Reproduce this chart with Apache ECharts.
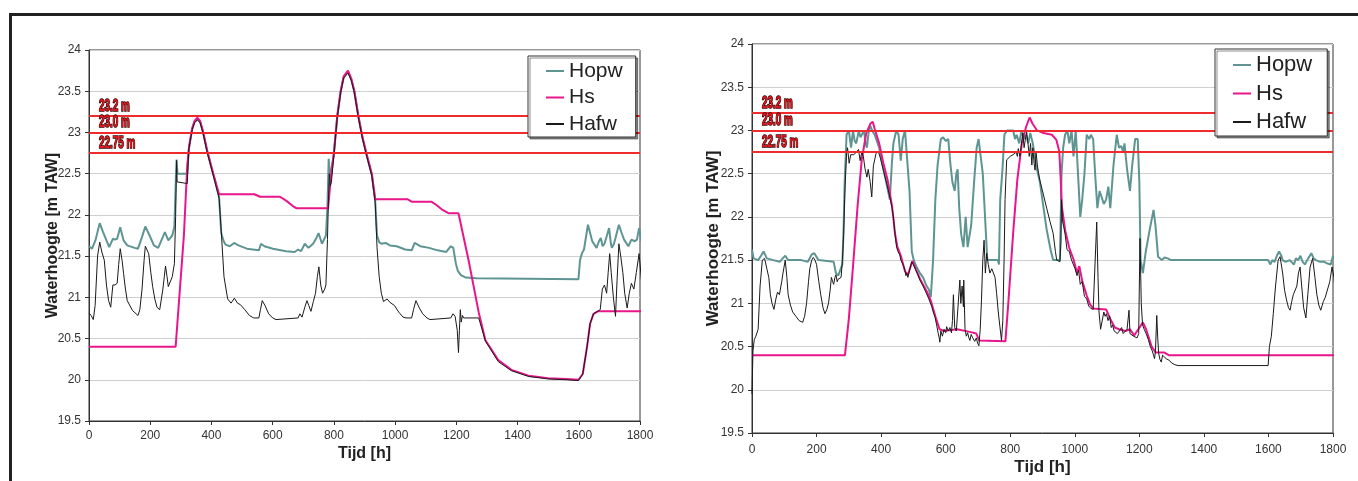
<!DOCTYPE html>
<html>
<head>
<meta charset="utf-8">
<script src="https://cdn.jsdelivr.net/npm/echarts@6/dist/echarts.min.js"></script>
<style>
  html, body { margin: 0; padding: 0; background: #fff; }
  #chart { width: 1358px; height: 481px; }
</style>
</head>
<body>
<div id="chart"></div>
<script>
// x ticks, y range
const xTicks = { min: 0, max: 1800, step: 200 };
const yTicks = { min: 19.5, max: 24, step: 0.5 };
const seriesNames = ['Hopw', 'Hs', 'Hafw'];
const limitLevels = [23.2, 23.0, 22.75];
const limitLabels = ['23.2 m', '23.0 m', '22.75 m'];

// linker grafiek  [tijd h, waterhoogte m TAW]
const leftHopw = [[0,21.62],[10,21.59],[21,21.69],[35,21.9],[45,21.8],[57,21.69],[66,21.61],[78,21.71],[85,21.7],[92,21.71],[102,21.85],[113,21.69],[125,21.63],[149,21.6],[160,21.59],[173,21.73],[184,21.86],[198,21.75],[212,21.63],[226,21.6],[248,21.79],[259,21.69],[272,21.75],[279,21.86],[283,22.34],[286,22.67],[289,22.5],[321,22.5],[326,22.8],[337,23.04],[345,23.13],[354,23.16],[363,23.13],[372,23.01],[386,22.77],[406,22.49],[425,22.22],[432,21.78],[440,21.68],[446,21.64],[460,21.62],[474,21.66],[488,21.63],[516,21.59],[555,21.57],[562,21.65],[573,21.62],[601,21.59],[644,21.56],[672,21.55],[683,21.58],[693,21.56],[705,21.65],[717,21.6],[732,21.65],[743,21.72],[750,21.78],[761,21.65],[774,21.75],[779,22.1],[783,22.68],[787,22.45],[792,22.45],[800,22.74],[811,23.19],[822,23.49],[832,23.67],[846,23.74],[857,23.64],[867,23.49],[880,23.19],[893,22.94],[906,22.74],[924,22.48],[935,22.17],[941,21.75],[948,21.67],[955,21.65],[969,21.66],[983,21.63],[1005,21.62],[1033,21.58],[1054,21.57],[1064,21.66],[1082,21.62],[1111,21.6],[1139,21.57],[1167,21.55],[1182,21.62],[1190,21.6],[1195,21.58],[1199,21.4],[1205,21.32],[1215,21.27],[1231,21.24],[1266,21.23],[1599,21.22],[1604,21.45],[1610,21.53],[1617,21.58],[1630,21.88],[1637,21.78],[1644,21.68],[1658,21.6],[1666,21.68],[1672,21.72],[1678,21.62],[1684,21.65],[1692,21.75],[1699,21.84],[1705,21.65],[1708,21.6],[1715,21.65],[1720,21.72],[1731,21.88],[1740,21.78],[1748,21.7],[1762,21.62],[1772,21.7],[1783,21.68],[1790,21.7],[1797,21.84],[1804,21.7],[1810,21.6]];
const leftHs = [[0,20.4],[283,20.4],[297,21.1],[310,21.75],[321,22.6],[328,22.85],[337,23.05],[345,23.14],[354,23.18],[363,23.14],[372,23.02],[386,22.78],[406,22.5],[425,22.25],[540,22.25],[559,22.22],[624,22.22],[645,22.17],[665,22.11],[678,22.08],[781,22.08],[790,22.45],[800,22.75],[811,23.2],[822,23.5],[832,23.68],[846,23.75],[857,23.65],[867,23.5],[880,23.2],[893,22.95],[906,22.75],[924,22.5],[935,22.19],[1040,22.19],[1054,22.16],[1118,22.16],[1135,22.12],[1155,22.06],[1174,22.02],[1207,22.02],[1240,21.45],[1273,20.82],[1295,20.48],[1337,20.24],[1380,20.12],[1436,20.05],[1500,20.02],[1560,20.01],[1599,20.0],[1613,20.07],[1627,20.4],[1637,20.68],[1648,20.8],[1662,20.83],[1810,20.83]];
const leftHafw = [[0,20.81],[7,20.78],[14,20.73],[20,20.9],[28,21.5],[35,21.67],[42,21.55],[50,21.45],[57,21.15],[64,20.96],[71,20.88],[78,21.15],[85,21.15],[92,21.17],[97,21.4],[102,21.59],[108,21.45],[113,21.29],[119,21.1],[125,20.96],[142,20.84],[160,20.78],[166,20.85],[173,21.09],[180,21.45],[184,21.62],[195,21.53],[202,21.3],[208,21.13],[215,20.98],[222,20.88],[231,20.85],[241,21.09],[246,21.25],[250,21.38],[255,21.25],[259,21.13],[264,21.13],[272,21.25],[279,21.41],[283,21.98],[286,22.66],[288,22.4],[290,22.38],[321,22.38],[326,22.8],[337,23.03],[345,23.12],[354,23.15],[363,23.12],[372,23.0],[386,22.76],[406,22.48],[425,22.2],[432,21.8],[441,21.25],[453,20.98],[464,20.93],[475,20.99],[485,20.93],[495,20.91],[509,20.85],[524,20.78],[538,20.75],[555,20.75],[560,20.85],[566,20.96],[575,20.9],[587,20.8],[600,20.75],[611,20.73],[683,20.75],[689,20.8],[696,20.76],[705,20.88],[712,20.96],[718,20.9],[725,20.83],[733,20.95],[740,21.05],[746,21.25],[751,21.37],[757,21.15],[763,21.05],[770,21.1],[774,21.15],[779,21.7],[781,22.0],[785,22.5],[788,22.35],[792,22.4],[800,22.72],[811,23.18],[822,23.48],[832,23.66],[846,23.72],[857,23.63],[867,23.48],[880,23.18],[893,22.93],[906,22.73],[924,22.47],[935,22.15],[941,21.6],[948,21.25],[955,21.05],[962,20.95],[974,20.98],[983,20.94],[998,20.9],[1012,20.82],[1026,20.76],[1036,20.75],[1054,20.75],[1060,20.85],[1068,20.96],[1078,20.88],[1090,20.8],[1104,20.75],[1114,20.73],[1182,20.75],[1189,20.8],[1196,20.77],[1203,20.6],[1207,20.33],[1210,20.6],[1213,20.85],[1216,20.7],[1220,20.78],[1224,20.75],[1273,20.75],[1295,20.47],[1337,20.22],[1380,20.11],[1436,20.04],[1500,20.01],[1560,20.0],[1599,19.99],[1613,20.07],[1627,20.4],[1637,20.68],[1648,20.8],[1662,20.83],[1670,20.85],[1677,21.1],[1684,21.15],[1691,21.05],[1696,21.3],[1701,21.53],[1706,21.3],[1713,21.0],[1720,20.77],[1725,21.2],[1731,21.65],[1737,21.5],[1744,21.3],[1750,21.05],[1758,20.87],[1765,21.05],[1772,21.17],[1780,21.1],[1788,21.3],[1797,21.53],[1805,21.2],[1810,20.95]];

// rechter grafiek
const rightHopw = [[0,21.62],[5,21.52],[19,21.5],[28,21.55],[36,21.6],[46,21.52],[66,21.5],[86,21.48],[95,21.52],[103,21.55],[112,21.5],[153,21.5],[173,21.48],[186,21.57],[193,21.58],[206,21.5],[253,21.48],[260,21.35],[267,21.32],[273,21.3],[280,21.45],[284,21.9],[287,22.4],[293,22.95],[300,23.0],[307,22.8],[313,23.0],[318,22.88],[323,22.85],[331,23.0],[336,22.92],[340,22.9],[347,23.0],[352,22.85],[356,22.8],[362,23.0],[367,23.05],[372,23.0],[380,22.95],[394,22.8],[407,22.55],[417,22.38],[427,22.2],[433,22.6],[438,22.85],[447,23.0],[454,22.95],[461,22.65],[467,22.9],[474,23.0],[480,22.98],[488,22.3],[495,21.6],[501,21.5],[510,21.42],[520,21.35],[530,21.3],[541,21.2],[548,21.16],[554,21.07],[561,21.5],[568,22.2],[575,22.6],[585,22.9],[592,22.92],[600,22.88],[608,22.9],[615,22.6],[621,22.4],[628,22.3],[633,22.5],[637,22.55],[642,22.1],[648,21.8],[655,21.65],[662,22.0],[668,21.65],[672,21.63],[679,21.9],[688,22.4],[696,22.8],[702,22.9],[708,22.9],[715,22.5],[722,22.0],[729,21.5],[762,21.5],[765,21.45],[769,22.2],[776,22.55],[782,22.95],[790,23.0],[809,23.0],[815,22.9],[820,22.95],[828,22.85],[835,23.0],[842,22.9],[849,22.95],[856,22.85],[862,22.97],[870,22.85],[880,22.6],[892,22.4],[913,21.85],[925,21.62],[933,21.5],[954,21.5],[959,22.5],[964,22.8],[970,22.95],[977,23.0],[983,22.85],[990,23.0],[996,22.7],[1003,23.0],[1010,22.5],[1017,22.0],[1023,22.2],[1030,22.5],[1037,22.95],[1045,22.9],[1050,22.95],[1057,22.9],[1063,22.5],[1070,22.1],[1077,22.3],[1083,22.3],[1090,22.15],[1097,22.2],[1104,22.35],[1110,22.1],[1120,22.6],[1130,22.95],[1137,22.8],[1144,22.82],[1150,22.75],[1154,22.85],[1162,22.55],[1171,22.3],[1178,22.6],[1187,22.9],[1195,22.9],[1200,22.4],[1204,21.5],[1211,21.35],[1220,21.6],[1232,21.85],[1244,22.08],[1250,21.9],[1258,21.54],[1264,21.55],[1270,21.5],[1278,21.53],[1288,21.52],[1298,21.5],[1599,21.5],[1606,21.45],[1612,21.5],[1619,21.48],[1626,21.55],[1633,21.6],[1640,21.55],[1644,21.5],[1653,21.48],[1666,21.5],[1672,21.48],[1679,21.45],[1685,21.52],[1692,21.5],[1699,21.55],[1706,21.48],[1713,21.45],[1720,21.5],[1733,21.58],[1740,21.52],[1747,21.5],[1760,21.48],[1773,21.48],[1783,21.46],[1793,21.45],[1800,21.55],[1806,21.5],[1811,21.5]];
const rightHs = [[0,20.4],[288,20.4],[300,20.82],[313,21.43],[327,22.12],[340,22.66],[354,22.97],[367,23.08],[374,23.1],[380,23.02],[394,22.85],[407,22.62],[420,22.43],[434,22.12],[443,21.81],[450,21.66],[461,21.55],[474,21.37],[483,21.33],[497,21.49],[508,21.39],[521,21.28],[541,21.14],[554,21.03],[568,20.85],[581,20.7],[595,20.68],[635,20.7],[675,20.67],[695,20.65],[704,20.57],[785,20.56],[795,21.05],[809,21.81],[822,22.43],[836,22.85],[849,23.04],[860,23.15],[869,23.08],[883,23.0],[903,22.97],[929,22.95],[943,22.89],[952,22.76],[956,22.47],[960,22.12],[970,21.85],[983,21.64],[996,21.51],[1007,21.35],[1014,21.43],[1023,21.26],[1037,21.09],[1047,20.99],[1057,20.94],[1097,20.93],[1110,20.82],[1124,20.72],[1137,20.7],[1157,20.68],[1171,20.7],[1184,20.63],[1197,20.7],[1211,20.78],[1221,20.7],[1238,20.5],[1251,20.43],[1278,20.43],[1291,20.4],[1811,20.4]];
const rightHafw = [[0,19.95],[3,20.45],[7,20.58],[12,20.62],[19,20.7],[25,21.2],[32,21.5],[39,21.52],[46,21.4],[52,21.3],[57,21.1],[62,21.0],[68,20.93],[74,21.05],[79,21.13],[85,21.1],[88,21.1],[92,21.25],[96,21.35],[103,21.5],[108,21.3],[112,21.1],[119,20.98],[126,20.9],[136,20.85],[146,20.8],[157,20.78],[163,20.85],[169,21.0],[175,21.25],[179,21.4],[185,21.5],[190,21.53],[195,21.5],[200,21.45],[207,21.25],[213,21.1],[220,20.95],[226,20.88],[232,20.93],[237,21.0],[242,21.15],[246,21.3],[250,21.25],[253,21.22],[257,21.3],[260,21.33],[264,21.25],[267,21.28],[272,21.3],[276,21.3],[280,21.5],[284,21.8],[287,22.2],[289,22.4],[293,22.73],[296,22.8],[301,22.62],[306,22.72],[315,22.72],[324,22.75],[330,22.78],[335,22.65],[340,22.75],[345,22.7],[350,22.56],[356,22.46],[360,22.55],[366,22.41],[371,22.23],[376,22.59],[384,22.73],[391,22.76],[397,22.69],[407,22.54],[417,22.39],[427,22.23],[434,22.1],[438,22.0],[443,21.8],[448,21.65],[452,21.6],[458,21.56],[461,21.5],[464,21.52],[469,21.44],[474,21.38],[477,21.32],[479,21.35],[483,21.3],[488,21.38],[495,21.48],[500,21.45],[508,21.38],[514,21.33],[520,21.27],[530,21.2],[541,21.11],[548,21.05],[557,20.96],[563,20.88],[567,20.84],[572,20.75],[577,20.65],[580,20.6],[582,20.55],[585,20.68],[590,20.62],[595,20.7],[600,20.66],[603,20.73],[608,20.68],[613,20.72],[618,20.66],[621,20.8],[624,21.1],[628,20.72],[633,20.68],[638,20.66],[644,21.27],[647,21.0],[651,21.2],[655,20.96],[656,21.27],[660,20.7],[664,20.62],[668,20.66],[672,20.6],[675,20.57],[679,20.64],[684,20.6],[690,20.56],[695,20.6],[699,20.54],[703,20.51],[707,20.7],[711,21.04],[715,21.5],[719,21.73],[723,21.35],[727,21.58],[732,21.45],[737,21.35],[743,21.4],[748,21.42],[753,21.3],[758,21.11],[763,20.9],[768,20.73],[773,20.57],[777,20.8],[781,21.5],[784,22.2],[789,22.66],[800,22.7],[809,22.72],[815,22.74],[819,22.75],[822,22.7],[825,22.79],[830,22.7],[835,22.85],[839,22.97],[843,22.8],[847,22.9],[851,22.98],[855,22.85],[859,22.7],[863,22.85],[867,22.6],[870,22.8],[874,22.62],[877,22.54],[880,22.75],[884,22.6],[888,22.5],[892,22.42],[900,22.3],[913,22.1],[923,21.95],[933,21.81],[940,21.6],[944,21.5],[954,21.48],[957,21.7],[959,22.2],[962,21.95],[966,21.88],[970,21.8],[976,21.62],[983,21.6],[990,21.5],[996,21.48],[1001,21.4],[1007,21.32],[1012,21.38],[1017,21.22],[1023,21.25],[1030,21.08],[1037,21.05],[1043,20.97],[1050,20.94],[1057,20.93],[1063,20.93],[1068,21.94],[1072,21.3],[1075,20.9],[1080,20.7],[1085,20.72],[1090,20.9],[1094,20.85],[1098,20.88],[1103,20.8],[1108,20.85],[1113,20.72],[1117,20.75],[1122,20.68],[1127,20.7],[1132,20.65],[1138,20.68],[1145,20.72],[1150,20.65],[1156,20.66],[1162,20.7],[1168,20.92],[1171,20.65],[1176,20.66],[1182,20.62],[1188,20.64],[1193,20.6],[1198,20.65],[1202,21.75],[1206,21.0],[1210,20.75],[1215,20.7],[1221,20.65],[1228,20.58],[1234,20.5],[1240,20.45],[1244,20.4],[1247,20.36],[1250,20.45],[1254,20.86],[1257,20.6],[1260,20.42],[1264,20.35],[1268,20.32],[1272,20.4],[1278,20.42],[1283,20.36],[1288,20.38],[1293,20.34],[1300,20.31],[1310,20.29],[1320,20.28],[1599,20.28],[1603,20.5],[1609,20.62],[1615,20.88],[1622,21.2],[1630,21.5],[1636,21.54],[1644,21.35],[1650,21.15],[1656,21.04],[1662,20.95],[1667,20.92],[1672,21.02],[1677,21.1],[1683,21.08],[1688,21.2],[1693,21.35],[1698,21.42],[1703,21.2],[1709,20.95],[1716,20.83],[1722,21.1],[1729,21.42],[1737,21.52],[1744,21.3],[1750,21.1],[1756,20.98],[1762,20.92],[1770,21.02],[1776,21.07],[1782,21.05],[1790,21.25],[1797,21.42],[1803,21.3],[1810,20.96]];

const COLORS = { Hopw: '#5e9593', Hs: '#e8168a', Hafw: '#1a1a1a', limit: '#ef2b2d' };
const FONT = '"Liberation Sans", Arial, sans-serif';

const grids = [
    { left: 89, top: 50, width: 551, height: 371 },
    { left: 752, top: 44, width: 581, height: 389 }
];

const makeXAxis = (gi, labelMargin, nameSize, nameGap) => ({
    type: 'value', gridIndex: gi,
    min: xTicks.min, max: xTicks.max, interval: xTicks.step,
    name: 'Tijd [h]', nameLocation: 'middle', nameGap: nameGap, nameMoveOverlap: false,
    nameTextStyle: { fontFamily: FONT, fontWeight: 'bold', fontSize: nameSize, color: '#222' },
    axisLine: { show: true, lineStyle: { color: '#333', width: 1 } },
    axisTick: { show: true, inside: false, length: 4, lineStyle: { color: '#333' } },
    axisLabel: { fontFamily: FONT, fontSize: 12, color: '#333', margin: labelMargin,
        formatter: (v) => String(v) },
    splitLine: { show: false }
});

const makeYAxis = (gi, nameSize, nameGap) => ({
    type: 'value', gridIndex: gi,
    min: yTicks.min, max: yTicks.max, interval: yTicks.step,
    name: 'Waterhoogte [m TAW]', nameLocation: 'middle', nameGap: nameGap, nameMoveOverlap: false,
    nameTextStyle: { fontFamily: FONT, fontWeight: 'bold', fontSize: nameSize, color: '#222' },
    axisLine: { show: true, lineStyle: { color: '#333', width: 1 } },
    axisTick: { show: true, inside: false, length: 4, lineStyle: { color: '#333' } },
    axisLabel: { fontFamily: FONT, fontSize: 12, color: '#333', margin: 8,
        formatter: (v) => String(Math.round(v * 10) / 10) },
    splitLine: { show: true, lineStyle: { color: '#cfcfcf', width: 1 } }
});

const lineSeries = (name, data, width, gi) => ({
    name: name, type: 'line', xAxisIndex: gi, yAxisIndex: gi,
    data: data, symbol: 'none', clip: false, animation: false,
    lineStyle: { color: COLORS[name], width: width },
    itemStyle: { color: COLORS[name] }
});

// rode grenslijnen (labels komen later als graphic)
const limitSeries = (gi) => ({
    name: 'limits' + gi, type: 'line', xAxisIndex: gi, yAxisIndex: gi,
    data: [], silent: true, animation: false, z: 5,
    markLine: {
        symbol: ['none', 'none'], silent: true, animation: false,
        lineStyle: { color: COLORS.limit, width: 2, type: 'solid' },
        label: { show: false },
        data: limitLevels.map(lv => ({ yAxis: lv }))
    }
});

const makeLegend = (left, top, fontSize, lineHeight, gap, padding) => ({
    data: seriesNames, orient: 'vertical', left: left, top: top,
    itemWidth: 18, itemHeight: 12, itemGap: gap, padding: padding,
    itemStyle: { opacity: 0 },
    backgroundColor: '#fff', borderColor: '#333', borderWidth: 1,
    shadowColor: 'rgba(0,0,0,0.45)', shadowOffsetX: 2, shadowOffsetY: 2, shadowBlur: 0,
    textStyle: { fontFamily: FONT, fontSize: fontSize, lineHeight: lineHeight, color: '#222' },
    selectedMode: false, z: 10
});

const frame = [
    { type: 'line', shape: { x1: 9, y1: 14.5, x2: 1358, y2: 14.5 }, style: { stroke: '#222', lineWidth: 3 } },
    { type: 'line', shape: { x1: 10.5, y1: 13, x2: 10.5, y2: 481 }, style: { stroke: '#222', lineWidth: 3 } }
];

const chart = echarts.init(document.getElementById('chart'), null, { renderer: 'canvas' });
chart.setOption({
    backgroundColor: '#fff',
    animation: false,
    graphic: frame,
    grid: grids.map(g => Object.assign({ show: true, borderColor: '#333', borderWidth: 1, backgroundColor: '#fff' }, g)),
    legend: [
        makeLegend(528, 56, 21, 24, 2.5, [3, 13, 1, 17]),
        makeLegend(1215, 49, 22, 26, 2.5, [3, 15, 1, 17])
    ],
    xAxis: [makeXAxis(0, 9, 16, 25), makeXAxis(1, 11, 17, 26)],
    yAxis: [makeYAxis(0, 16, 28), makeYAxis(1, 17, 30)],
    series: [
        lineSeries('Hopw', leftHopw, 2, 0),
        lineSeries('Hs', leftHs, 2, 0),
        lineSeries('Hafw', leftHafw, 1, 0),
        limitSeries(0),
        lineSeries('Hopw', rightHopw, 2, 1),
        lineSeries('Hs', rightHs, 2, 1),
        lineSeries('Hafw', rightHafw, 1, 1),
        limitSeries(1)
    ]
});

// smalle, omlijnde labels boven de grenslijnen
const limitTexts = [];
[0, 1].forEach(gi => {
    limitLevels.forEach((lv, i) => {
        const p = chart.convertToPixel({ gridIndex: gi }, [0, lv]);
        limitTexts.push({
            type: 'text', x: p[0] + 10, y: p[1] - 1.5, z: 20, scaleX: 0.58,
            style: {
                text: limitLabels[i], fontFamily: FONT, fontWeight: 'bold', fontSize: 17,
                fill: '#e3141c', stroke: '#2b0000', lineWidth: 1.6,
                textAlign: 'left', textVerticalAlign: 'bottom'
            }
        });
    });
});
chart.setOption({ graphic: frame.concat(limitTexts) });
</script>
</body>
</html>
